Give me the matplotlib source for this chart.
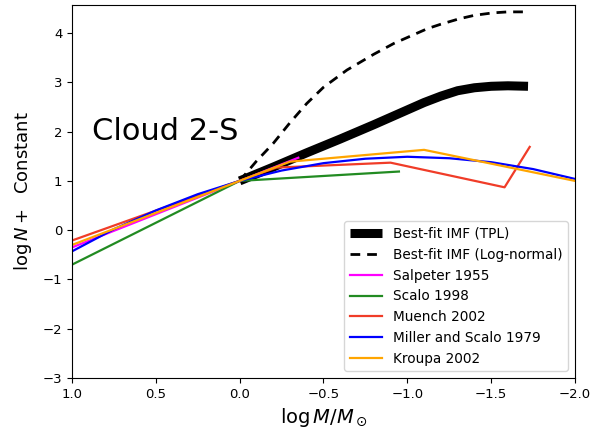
import matplotlib
matplotlib.use("Agg")
import matplotlib.pyplot as plt

# Best-fit TPL
tpl_x = [0.0, -0.2, -0.4, -0.6, -0.8, -1.0, -1.1, -1.2, -1.3, -1.4, -1.5, -1.6, -1.72]
tpl_y = [1.0, 1.28, 1.57, 1.85, 2.14, 2.44, 2.59, 2.72, 2.83, 2.89, 2.92, 2.93, 2.92]
# Best-fit log-normal
ln_x = [0.0, -0.1, -0.2, -0.3, -0.4, -0.5, -0.64, -0.8, -0.92, -1.0, -1.12, -1.2, -1.31, -1.4, -1.51, -1.6, -1.7]
ln_y = [1.0, 1.40, 1.76, 2.18, 2.57, 2.90, 3.25, 3.57, 3.79, 3.91, 4.09, 4.18, 4.29, 4.36, 4.41, 4.43, 4.43]
# Salpeter 1955
sal_x = [1.0, -0.35]
sal_y = [-0.35, 1.47]
# Scalo 1998
sca_x = [1.0, 0.0, -0.95]
sca_y = [-0.70, 1.0, 1.19]
# Muench 2002
mu_x = [1.0, -0.22, -0.9, -1.58, -1.73]
mu_y = [-0.21, 1.27, 1.37, 0.87, 1.69]
# Miller and Scalo 1979
ms_x = [1.0, 0.75, 0.5, 0.25, 0.0, -0.25, -0.5, -0.75, -1.0, -1.25, -1.5, -1.75, -2.0]
ms_y = [-0.43, 0.02, 0.40, 0.73, 1.0, 1.21, 1.36, 1.45, 1.49, 1.46, 1.38, 1.24, 1.04]
# Kroupa 2002
kr_x = [1.0, -0.3, -1.1, -2.0]
kr_y = [-0.30, 1.39, 1.63, 1.00]

fig = plt.figure(figsize=(5.93, 4.37), dpi=100)
ax = fig.add_axes([0.1214, 0.135, 0.8482, 0.8536])

ax.plot(tpl_x, tpl_y, color='black', lw=6.5, solid_capstyle='butt', solid_joinstyle='round',
        label='Best-fit IMF (TPL)')
ax.plot(ln_x, ln_y, color='black', lw=2, ls=(0, (3.5, 2.5)), label='Best-fit IMF (Log-normal)')
ax.plot(sal_x, sal_y, color='magenta', lw=1.6, label='Salpeter 1955')
ax.plot(sca_x, sca_y, color='forestgreen', lw=1.6, label='Scalo 1998')
ax.plot(mu_x, mu_y, color='#f03c28', lw=1.6, label='Muench 2002')
ax.plot(ms_x, ms_y, color='blue', lw=1.6, label='Miller and Scalo 1979')
ax.plot(kr_x, kr_y, color='orange', lw=1.6, label='Kroupa 2002')

ax.set_xlim(1.0, -2.0)
ax.set_ylim(-3, 4.57)
ax.set_xticks([1.0, 0.5, 0.0, -0.5, -1.0, -1.5, -2.0])
ax.set_yticks([-3, -2, -1, 0, 1, 2, 3, 4])
ax.tick_params(labelsize=9.5)
ax.set_xlabel(r'$\log M/M_\odot$', fontsize=14)
ax.set_ylabel(r'$\log N +$  Constant', fontsize=13, labelpad=6)
ax.text(0.88, 1.83, 'Cloud 2-S', fontsize=22)
ax.legend(loc='lower right', fontsize=9.8, handlelength=2.4)

fig.savefig('out.png', dpi=100)
